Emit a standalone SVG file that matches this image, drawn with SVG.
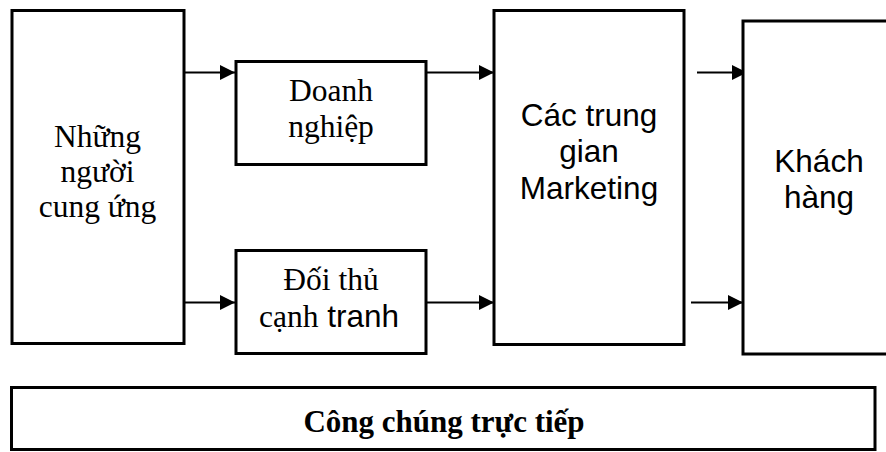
<svg xmlns="http://www.w3.org/2000/svg" width="886" height="452" viewBox="0 0 886 452">
<style>
.box{fill:#fff;stroke:#000;stroke-width:3}
.line{fill:none;stroke:#000;stroke-width:2}
.tr{font-family:"Liberation Serif","Times New Roman",serif;font-size:31.5px;fill:#000;text-anchor:middle}
.ar{font-family:"Liberation Sans",Arial,sans-serif;font-size:31.5px;fill:#000;text-anchor:middle}
.bold{font-family:"Liberation Serif","Times New Roman",serif;font-size:31px;font-weight:bold;fill:#000;text-anchor:middle}
</style>
<defs>
<marker id="arr" viewBox="0 0 15 15" refX="15" refY="7.5" markerWidth="15" markerHeight="15" markerUnits="userSpaceOnUse" orient="auto">
<path d="M0,0 L15,7.5 L0,15 Z" fill="#000"/>
</marker>
</defs>
<rect width="886" height="452" fill="#fff"/>
<g id="connectors">
<line class="line" x1="184" y1="72.5" x2="235" y2="72.5" marker-end="url(#arr)"/>
<line class="line" x1="184" y1="302.5" x2="235" y2="302.5" marker-end="url(#arr)"/>
<line class="line" x1="426" y1="72.5" x2="494" y2="72.5" marker-end="url(#arr)"/>
<line class="line" x1="426" y1="302.5" x2="494" y2="302.5" marker-end="url(#arr)"/>
<line class="line" x1="697" y1="72.5" x2="747" y2="72.5" marker-end="url(#arr)"/>
<line class="line" x1="691" y1="302.5" x2="743" y2="302.5" marker-end="url(#arr)"/>
</g>
<g id="nguoi-cung-ung">
<rect class="box" x="12" y="10.5" width="172" height="333"/>
<text class="tr" x="97.5" y="147">Những</text>
<text class="tr" x="97.5" y="182">người</text>
<text class="tr" x="97.5" y="217">cung ứng</text>
</g>
<g id="doanh-nghiep">
<rect class="box" x="236" y="61.5" width="190" height="103"/>
<text class="tr" x="331" y="101">Doanh</text>
<text class="tr" x="331" y="137">nghiệp</text>
</g>
<g id="doi-thu">
<rect class="box" x="236" y="250.5" width="190" height="103"/>
<text class="tr" x="331" y="290">Đối thủ</text>
<text class="tr" x="329" y="327">cạnh<tspan style="font-family:'Liberation Sans',Arial,sans-serif"> tranh</tspan></text>
</g>
<g id="trung-gian">
<rect class="box" x="494" y="10.5" width="190" height="334"/>
<text class="ar" x="589" y="126">Các trung</text>
<text class="ar" x="589" y="162">gian</text>
<text class="ar" x="589" y="199">Marketing</text>
</g>
<g id="khach-hang">
<rect class="box" x="743" y="21" width="200" height="333"/>
<text class="ar" x="819" y="172">Khách</text>
<text class="ar" x="819" y="208">hàng</text>
</g>
<g id="cong-chung">
<rect class="box" x="11.5" y="387.5" width="863.5" height="62"/>
<text class="bold" x="444" y="432">Công chúng trực tiếp</text>
</g>
</svg>
